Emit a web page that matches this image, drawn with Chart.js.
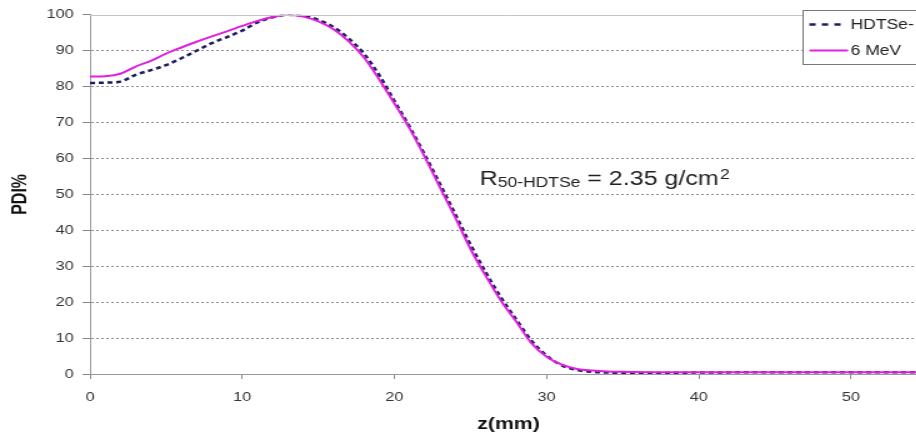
<!DOCTYPE html>
<html><head><meta charset="utf-8">
<script src="https://cdn.jsdelivr.net/npm/chart.js@4/dist/chart.umd.min.js"></script>
<style>
html,body{margin:0;padding:0;overflow:hidden;background:#fff;width:916px;height:437px;}
#wrap{position:absolute;left:0;top:0;width:760px;height:437px;transform:scaleX(1.25);transform-origin:0 0;}
canvas{display:block;}
</style></head><body>
<div id="wrap"><canvas id="c" width="760" height="437"></canvas></div>
<script>
// ---- data ----
const seriesLabels = ['HDTSe-', '6 MeV'];
const zHDTSe   = [0,1,2,3,4,5,6,7,8,9,10,11,12,13,14,15,16,17,18,19,20,21,22,23,24,25,26,27,28,29,30,31,32,33,34,35,37,40,45,50,55];
const pdiHDTSe = [81.0,81.1,81.4,83.3,84.6,86.0,87.9,90.0,92.1,93.8,95.6,97.9,99.3,100,99.7,98.6,96.6,93.4,89.2,83.2,76.0,68.8,61.0,52.8,44.5,36.0,28.3,21.3,15.2,9.3,5.1,2.4,1.1,0.6,0.4,0.3,0.3,0.4,0.5,0.5,0.5];
const z6MeV    = [0,1,2,3,4,5,6,7,8,9,10,11,12,13,14,15,16,17,18,19,20,21,22,23,24,25,26,27,28,29,30,31,32,33,34,35,37,40,45,50,55];
const pdi6MeV  = [82.8,82.9,83.6,85.6,87.2,89.2,90.9,92.5,94.0,95.4,96.9,98.3,99.4,100,99.5,98.2,96.0,92.6,88.1,82.0,75.3,68.3,60.4,51.9,43.5,34.8,27.3,20.4,14.6,8.6,4.8,2.6,1.4,0.95,0.7,0.6,0.5,0.5,0.5,0.5,0.5];
const xTicks = [0,10,20,30,40,50];
const yTicks = [0,10,20,30,40,50,60,70,80,90,100];
const xTitle = 'z(mm)';
const yTitle = 'PDI%';
const noteMain = 'R', noteSub = '50-HDTSe', noteRest = ' = 2.35 g/cm', noteSup = '2';
const notePos = {x: 25.6, y: 52.5};

const FONT = '"Liberation Sans", Arial, Helvetica, sans-serif';

const extras = {
  id: 'extras',
  afterDraw(chart) {
    const ctx = chart.ctx, ca = chart.chartArea;
    const xs = chart.scales.x, ys = chart.scales.y;
    ctx.save();
    // solid top line at 100
    ctx.strokeStyle = '#c4c4c4'; ctx.lineWidth = 1;
    const yt = Math.round(ys.getPixelForValue(100)) + 0.5;
    ctx.beginPath(); ctx.moveTo(ca.left, yt); ctx.lineTo(ca.right, yt); ctx.stroke();
    // annotation
    let x = xs.getPixelForValue(notePos.x), y = ys.getPixelForValue(notePos.y);
    ctx.fillStyle = '#222'; ctx.textBaseline = 'alphabetic'; ctx.textAlign = 'left';
    ctx.font = '20px ' + FONT; ctx.fillText(noteMain, x, y); x += ctx.measureText(noteMain).width;
    ctx.font = '14px ' + FONT; ctx.fillText(noteSub, x, y + 2); x += ctx.measureText(noteSub).width;
    ctx.font = '20px ' + FONT; ctx.fillText(noteRest, x, y); x += ctx.measureText(noteRest).width + 1;
    ctx.font = '14px ' + FONT; ctx.fillText(noteSup, x, y - 6);
    // legend
    const lx = 642.5, ly = 10.5, lw = 110, lh = 54;
    ctx.fillStyle = '#fff'; ctx.fillRect(lx, ly, lw, lh);
    ctx.strokeStyle = '#777'; ctx.lineWidth = 1; ctx.strokeRect(lx, ly, lw, lh);
    const rows = [14, 40];
    const legendDash = [[5, 5], []];
    const legendEnd = [30, 36];
    chart.data.datasets.forEach((ds, i) => {
      const ry = ly + rows[i];
      ctx.save();
      ctx.strokeStyle = ds.borderColor; ctx.lineWidth = ds.borderWidth;
      ctx.setLineDash(legendDash[i]);
      ctx.beginPath(); ctx.moveTo(lx + 5, ry); ctx.lineTo(lx + legendEnd[i], ry); ctx.stroke();
      ctx.restore();
      ctx.fillStyle = '#222'; ctx.font = '14px ' + FONT; ctx.textBaseline = 'middle';
      ctx.fillText(ds.label, lx + 38, ry + 1);
    });
    ctx.restore();
  }
};

new Chart(document.getElementById('c'), {
  type: 'line',
  data: {
    datasets: [
      {label: seriesLabels[0], data: zHDTSe.map((z, i) => ({x: z, y: pdiHDTSe[i]})),
       borderColor: '#1c1c5e', borderWidth: 2.5, borderDash: [4, 3], pointRadius: 0,
       cubicInterpolationMode: 'monotone', fill: false, order: 1},
      {label: seriesLabels[1], data: z6MeV.map((z, i) => ({x: z, y: pdi6MeV[i]})),
       borderColor: '#e020e0', borderWidth: 2, pointRadius: 0,
       cubicInterpolationMode: 'monotone', fill: false, order: 0}
    ]
  },
  options: {
    responsive: false, animation: false, devicePixelRatio: 1,
    layout: {padding: {left: 0, right: 18.3, top: 14, bottom: 0}},
    plugins: {legend: {display: false}, tooltip: {enabled: false}},
    scales: {
      x: {
        type: 'linear', min: 0, max: 55,
        afterBuildTicks: s => { s.ticks = xTicks.map(v => ({value: v})); },
        afterFit: s => { s.height = 63; },
        grid: {drawOnChartArea: false, drawTicks: true, tickLength: 5, color: '#888', tickColor: '#888'},
        border: {display: true, color: '#999', width: 1},
        ticks: {padding: 11, color: '#333', font: {family: FONT, size: 13}, maxRotation: 0, autoSkip: false},
        title: {display: true, text: xTitle, color: '#111', font: {family: FONT, size: 17, weight: 'bold'}, padding: {top: 0, bottom: 2}}
      },
      y: {
        type: 'linear', min: 0, max: 100,
        afterBuildTicks: s => { s.ticks = yTicks.map(v => ({value: v})); },
        afterFit: s => { s.width = 72; },
        grid: {color: c => (c.tick && (c.tick.value === 0 || c.tick.value === 100)) ? 'rgba(0,0,0,0)' : '#8c8c8c',
               tickColor: '#888', tickLength: 6, tickBorderDash: [], drawTicks: true},
        border: {display: true, color: '#999', width: 1, dash: [2, 2]},
        ticks: {padding: 7, color: '#333', font: {family: FONT, size: 13}, autoSkip: false},
        title: {display: true, text: yTitle, color: '#111', font: {family: FONT, size: 16, weight: 'bold'}, padding: {top: 7, bottom: 0}}
      }
    }
  },
  plugins: [extras]
});
</script>
</body></html>
